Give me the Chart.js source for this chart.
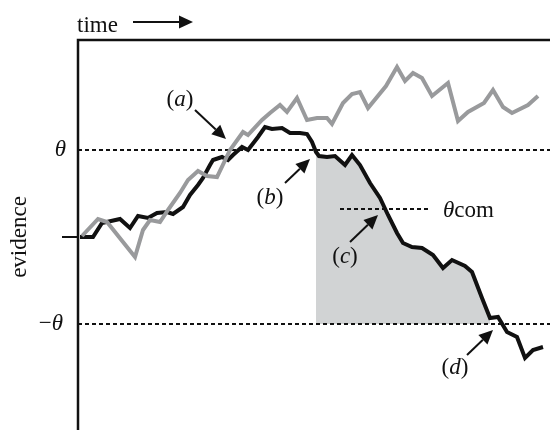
<!DOCTYPE html>
<html>
<head>
<meta charset="utf-8">
<script src="https://cdn.jsdelivr.net/npm/chart.js@4.4.0/dist/chart.umd.min.js"></script>
<style>
  html, body { margin: 0; padding: 0; background: #fff; }
  #wrap { width: 550px; height: 430px; }
</style>
</head>
<body>
<div id="wrap"><canvas id="evidenceChart" width="550" height="430"></canvas></div>
<script>
// evidence units: 0 = start, +/-THETA = bounds
const THETA = 87;
const THETA_COM = 28;

// winning walk (black)
const blackT = [2, 15, 24, 42, 52, 60, 70, 79, 89, 95, 105, 112, 120, 125, 132, 135, 144, 150, 155, 164, 170, 180, 187, 194, 204, 212, 222, 229, 234, 238, 241, 249, 257, 267, 274, 282, 292, 302, 310, 319, 325, 334, 344, 355, 365, 374, 387, 394, 404, 412, 420, 429, 439, 447, 455, 465];
const blackE = [0, 0, 14, 18, 9, 21, 19, 24, 25, 23, 30, 42, 52, 59, 72, 77, 80, 77, 82, 90, 87, 100, 110, 108, 109, 104, 104, 103, 95, 85, 81, 80, 81, 72, 82, 72, 54, 39, 22, 4, -6, -10, -11, -18, -31, -23, -29, -35, -61, -81, -80, -95, -100, -121, -113, -110];

// other walk (grey)
const greyT = [4, 20, 29, 57, 65, 72, 82, 90, 102, 110, 120, 129, 139, 152, 165, 170, 184, 192, 202, 209, 219, 229, 239, 249, 254, 265, 274, 282, 290, 308, 319, 327, 335, 344, 354, 370, 380, 390, 406, 415, 425, 434, 450, 460];
const greyE = [1, 18, 15, -20, 7, 17, 15, 27, 44, 57, 66, 61, 60, 87, 105, 102, 117, 124, 132, 125, 139, 117, 119, 119, 113, 134, 143, 145, 129, 151, 170, 156, 164, 159, 141, 154, 116, 125, 134, 147, 130, 124, 132, 141];

// shaded stretch: from leaving theta to hitting -theta
const shadeStart = 238;
const shadeEnd = 412;

const T_MAX = 472;
const E_MIN = -188;
const E_MAX = 197;

const toPts = (ts, es) => ts.map((t, i) => ({ x: t, y: es[i] }));
const blackPts = toPts(blackT, blackE);
const greyPts = toPts(greyT, greyE);
const shadePts = blackPts.filter(p => p.x >= shadeStart && p.x <= shadeEnd);

const SERIF = "'Liberation Serif', 'DejaVu Serif', serif";
const FS = 23;

// annotations: label position and arrow (from -> to), in data units
const notes = [
    { text: 'a', lx: 102, ly: 137, from: [117, 127], to: [148, 98] },
    { text: 'b', lx: 192, ly: 39, from: [207, 54], to: [232, 78] },
    { text: 'c', lx: 267, ly: -20, from: [272, -5], to: [300, 22] },
    { text: 'd', lx: 377, ly: -131, from: [389, -118], to: [415, -93] }
];

function arrow(ctx, x1, y1, x2, y2) {
    const ang = Math.atan2(y2 - y1, x2 - x1);
    const hl = 14, hw = 6.5;
    const bx = x2 - Math.cos(ang) * hl;
    const by = y2 - Math.sin(ang) * hl;
    ctx.beginPath();
    ctx.moveTo(x1, y1);
    ctx.lineTo(bx, by);
    ctx.stroke();
    ctx.beginPath();
    ctx.moveTo(x2, y2);
    ctx.lineTo(bx - Math.sin(ang) * hw, by + Math.cos(ang) * hw);
    ctx.lineTo(bx + Math.sin(ang) * hw, by - Math.cos(ang) * hw);
    ctx.closePath();
    ctx.fill();
}

function drawParenLabel(ctx, letter, cx, cy) {
    ctx.textBaseline = 'middle';
    ctx.font = FS + 'px ' + SERIF;
    const pw = ctx.measureText('(').width;
    ctx.font = 'italic ' + FS + 'px ' + SERIF;
    const lw = ctx.measureText(letter).width;
    const x = cx - (pw * 2 + lw) / 2;
    ctx.textAlign = 'left';
    ctx.font = FS + 'px ' + SERIF;
    ctx.fillText('(', x, cy);
    ctx.font = 'italic ' + FS + 'px ' + SERIF;
    ctx.fillText(letter, x + pw, cy);
    ctx.font = FS + 'px ' + SERIF;
    ctx.fillText(')', x + pw + lw, cy);
}

const framePlugin = {
    id: 'frame',
    afterDraw(chart) {
        const ctx = chart.ctx;
        const a = chart.chartArea;
        const xs = chart.scales.x, ys = chart.scales.y;
        ctx.save();
        ctx.strokeStyle = '#111';
        ctx.fillStyle = '#111';
        ctx.lineWidth = 2.5;
        ctx.lineCap = 'butt';

        // left and top frame
        ctx.beginPath();
        ctx.moveTo(a.left, a.bottom + 5);
        ctx.lineTo(a.left, a.top);
        ctx.lineTo(a.right, a.top);
        ctx.stroke();

        // start tick
        const y0 = ys.getPixelForValue(0);
        ctx.lineWidth = 2;
        ctx.beginPath();
        ctx.moveTo(a.left - 16, y0);
        ctx.lineTo(a.left, y0);
        ctx.stroke();

        // time label + arrow
        ctx.font = FS + 'px ' + SERIF;
        ctx.textAlign = 'left';
        ctx.textBaseline = 'alphabetic';
        ctx.fillText('time', a.left - 1, a.top - 8);
        ctx.lineWidth = 2;
        arrow(ctx, a.left + 55, a.top - 18, a.left + 115, a.top - 18);

        // evidence label
        ctx.save();
        ctx.translate(26, y0);
        ctx.rotate(-Math.PI / 2);
        ctx.textAlign = 'center';
        ctx.textBaseline = 'alphabetic';
        ctx.fillText('evidence', 0, 0);
        ctx.restore();

        // theta labels
        ctx.textBaseline = 'middle';
        ctx.textAlign = 'right';
        ctx.font = 'italic ' + FS + 'px ' + SERIF;
        ctx.fillText('θ', a.left - 12, ys.getPixelForValue(THETA));
        const ny = ys.getPixelForValue(-THETA);
        const tw = ctx.measureText('θ').width;
        ctx.fillText('θ', a.left - 15, ny);
        ctx.font = FS + 'px ' + SERIF;
        ctx.fillText('−', a.left - 15 - tw, ny);

        // theta com label
        ctx.textAlign = 'left';
        ctx.textBaseline = 'alphabetic';
        ctx.font = 'italic ' + FS + 'px ' + SERIF;
        const cx = xs.getPixelForValue(365);
        const cy = ys.getPixelForValue(THETA_COM) + 8;
        ctx.fillText('θ', cx, cy);
        const thw = ctx.measureText('θ').width;
        ctx.font = FS + 'px ' + SERIF;
        ctx.fillText('com', cx + thw, cy);

        // annotations
        ctx.lineWidth = 2;
        notes.forEach(n => {
            drawParenLabel(ctx, n.text, xs.getPixelForValue(n.lx), ys.getPixelForValue(n.ly));
            arrow(ctx,
                xs.getPixelForValue(n.from[0]), ys.getPixelForValue(n.from[1]),
                xs.getPixelForValue(n.to[0]), ys.getPixelForValue(n.to[1]));
        });
        ctx.restore();
    }
};

const dashed = (x0, x1, v) => ({
    data: [{ x: x0, y: v }, { x: x1, y: v }],
    showLine: true,
    borderColor: '#111',
    borderWidth: 2,
    borderDash: [4, 3],
    pointRadius: 0,
    fill: false
});

new Chart(document.getElementById('evidenceChart').getContext('2d'), {
    type: 'scatter',
    data: {
        datasets: [
            {
                data: greyPts,
                showLine: true,
                borderColor: '#999a9c',
                borderWidth: 4,
                borderJoinStyle: 'miter',
                pointRadius: 0,
                fill: false
            },
            {
                data: blackPts,
                showLine: true,
                borderColor: '#111',
                borderWidth: 4,
                borderJoinStyle: 'miter',
                pointRadius: 0,
                fill: false
            },
            dashed(0, T_MAX, THETA),
            dashed(0, T_MAX, -THETA),
            dashed(262, 352, THETA_COM),
            {
                data: shadePts,
                showLine: true,
                borderWidth: 0,
                borderColor: 'rgba(0,0,0,0)',
                backgroundColor: '#d1d3d4',
                pointRadius: 0,
                fill: { value: -THETA }
            }
        ]
    },
    plugins: [framePlugin],
    options: {
        responsive: false,
        animation: false,
        layout: { padding: { left: 78, top: 40, right: 0, bottom: 5 } },
        plugins: {
            legend: { display: false },
            tooltip: { enabled: false }
        },
        scales: {
            x: { type: 'linear', min: 0, max: T_MAX, display: false },
            y: { type: 'linear', min: E_MIN, max: E_MAX, display: false }
        }
    }
});
</script>
</body>
</html>
